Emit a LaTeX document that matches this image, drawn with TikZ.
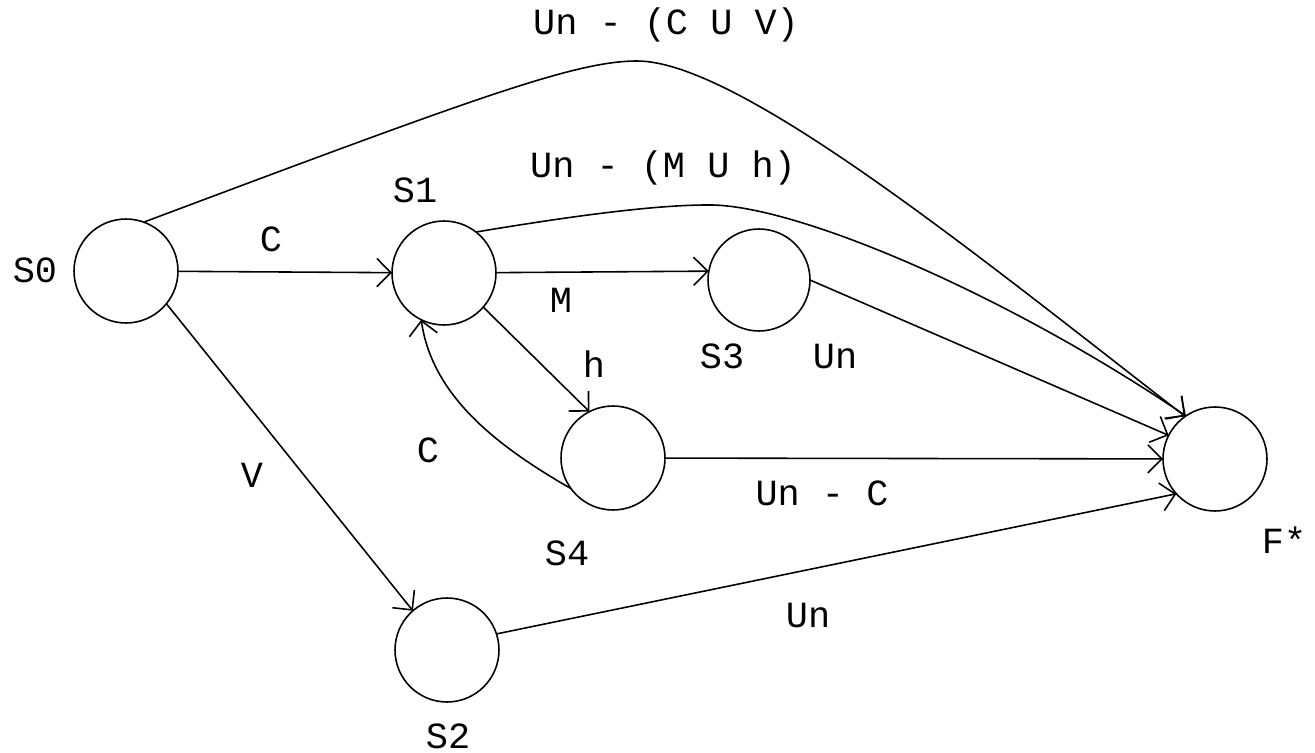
\documentclass[tikz,border=0pt]{standalone}
\usepackage{fontspec}
\setmainfont{Liberation Mono}
\usetikzlibrary{arrows.meta}
\begin{document}
\begin{tikzpicture}[x=0.02cm,y=-0.02cm,
  state/.style={circle,draw,line width=0.9pt,minimum size=2.08cm,inner sep=0pt,outer sep=0pt},
  lbl/.style={anchor=base,inner sep=0pt,font=\fontsize{21}{24}\selectfont},
  edge/.style={line width=0.9pt,-{Straight Barb[length=8pt,width=16pt]}}]
\useasboundingbox (0,0) rectangle (1315,753);

% states
\node[state] (S0) at (126,271) {};
\node[state] (S1) at (444,273) {};
\node[state,minimum size=2.04cm] (S3) at (759,280) {};
\node[state] (S4) at (613,458) {};
\node[state] (S2) at (447,650) {};
\node[state] (F) at (1215,459) {};

% state names
\node[lbl] (nS0) at (35,282) {S0};
\node[lbl] (nS1) at (415,203) {S1};
\node[lbl] (nS3) at (722,368) {S3};
\node[lbl] (nS4) at (567,565) {S4};
\node[lbl] (nS2) at (448,748) {S2};
\node[lbl] (nF) at (1284,553) {F*};

% edge labels
\node[lbl] (l1) at (666,35) {Un - (C U V)};
\node[lbl] (l2) at (663,178) {Un - (M U h)};
\node[lbl] (l3) at (271,252) {C};
\node[lbl] (l4) at (561,313) {M};
\node[lbl] (l5) at (594,377) {h};
\node[lbl] (l6) at (835,368) {Un};
\node[lbl] (l7) at (428,462) {C};
\node[lbl] (l8) at (252,487) {V};
\node[lbl] (l9) at (822,505) {Un - C};
\node[lbl] (l10) at (808,627) {Un};

% helper coordinates for curve peaks
\coordinate (p1) at (637,61);
\coordinate (p2) at (707,205);

% edges
\draw[edge] (S0.70) .. controls (475,98) and (575,61) .. (p1)
  .. controls (740,61) and (983,260) .. (F.125);
\draw[edge] (S1.52) .. controls (560,218) and (650,205) .. (p2)
  .. controls (790,203) and (1000,290) .. (F.124);
\draw[edge] (S0) -- (S1);
\draw[edge] (S1) -- (S3.170);
\draw[edge] (S1.-41) -- (S4.117);
\draw[edge] (S4.216) .. controls (495,445) and (432,395) .. (S1.244);
\draw[edge] (S3.0) -- (F.153);
\draw[edge] (S4) -- (F);
\draw[edge] (S0.-39) -- (S2.131);
\draw[edge] (S2.18) -- (F.222);
\end{tikzpicture}
\end{document}
